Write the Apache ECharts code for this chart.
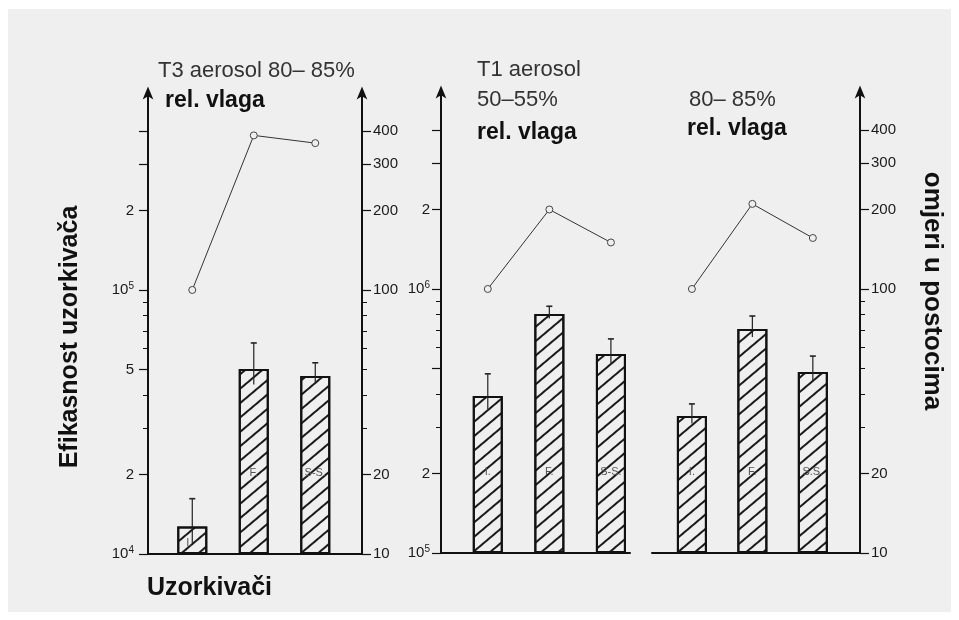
<!DOCTYPE html>
<html>
<head>
<meta charset="utf-8">
<script src="https://cdn.jsdelivr.net/npm/echarts@6/dist/echarts.min.js"></script>
<style>
  html, body { margin: 0; padding: 0; background: #ffffff; }
  #sheet { position: absolute; left: 8px; top: 9px; width: 943px; height: 603px; background: #efefef; }
  #chart { position: absolute; left: 0; top: 0; width: 959px; height: 620px; }
</style>
</head>
<body>
<div id="sheet"></div>
<div id="chart"></div>
<script>
// Sampler efficiency (bars, upper error bound) and ratio to the impinger in % (line)
const samplersT3 = ['I.', 'F.', 'S-S.'];
const efficiencyT3 = [12700, 50200, 47200];
const efficiencyT3Upper = [16200, 63000, 53000];
const ratioT3 = [100, 385, 360];

const samplersT1Low = ['I.', 'F.', 'S-S.'];
const efficiencyT1Low = [393000, 804000, 567000];
const efficiencyT1LowUpper = [477000, 860000, 647000];
const ratioT1Low = [100, 200, 150];

const samplersT1High = ['I.', 'F.', 'S.S.'];
const efficiencyT1High = [330000, 705000, 485000];
const efficiencyT1HighUpper = [367000, 790000, 557000];
const ratioT1High = [100, 210, 156];

// Axis ticks and their labels
const effTicksT3 = [1e4, 2e4, 5e4, 1e5, 2e5, 3e5, 4e5];
const effTickLabelsT3 = ['10^4', '2', '5', '10^5', '2', '', ''];
const effMinorTicksT3 = [3e4, 4e4, 6e4, 7e4, 8e4, 9e4];
const effTicksT1 = [1e5, 2e5, 5e5, 1e6, 2e6, 3e6, 4e6];
const effTickLabelsT1 = ['10^5', '2', '', '10^6', '2', '', ''];
const effMinorTicksT1 = [3e5, 4e5, 6e5, 7e5, 8e5, 9e5];
const ratioTicks = [10, 20, 100, 200, 300, 400];
const ratioTickLabels = ['10', '20', '100', '200', '300', '400'];
const ratioMinorTicks = [30, 40, 50, 60, 70, 80, 90];

// Axis ranges
const effRangeT3 = [1e4, 5.5e5];
const effRangeT1 = [1e5, 5.5e6];
const ratioRange = [10, 550];

const FONT = '"Liberation Sans", Arial, sans-serif';
const INK = '#111';

const hatch = {
  symbol: 'rect', symbolSize: 1, color: '#1a1a1a',
  dashArrayX: [1, 0], dashArrayY: [2, 9], rotation: -0.7
};

function labelFormatter(ticks, labels) {
  return function (value) {
    for (let i = 0; i < ticks.length; i++) {
      if (Math.abs(value / ticks[i] - 1) < 1e-6) {
        const t = labels[i];
        const m = /^10\^(\d)$/.exec(t);
        return m ? '10{sup|' + m[1] + '}' : t;
      }
    }
    return '';
  };
}

function mainAxis(gridIndex, position, range, ticks, labels, margin) {
  return {
    type: 'log', logBase: 10, gridIndex: gridIndex, position: position,
    min: range[0], max: range[1], startValue: range[0],
    axisLine: { show: true, onZero: false, lineStyle: { color: INK, width: 2 },
      symbol: ['none', 'arrow'], symbolSize: [8, 13], symbolOffset: [0, 8] },
    axisTick: { show: true, length: 9, customValues: ticks, lineStyle: { color: INK, width: 1.2 } },
    axisLabel: {
      show: true, customValues: ticks, margin: margin, formatter: labelFormatter(ticks, labels),
      color: '#1a1a1a', fontSize: 15, fontFamily: FONT,
      rich: { sup: { fontSize: 10, fontFamily: FONT, color: '#1a1a1a', padding: [0, 0, 8, 0] } }
    },
    splitLine: { show: false }
  };
}

function minorAxis(gridIndex, position, range, ticks) {
  return {
    type: 'log', logBase: 10, gridIndex: gridIndex, position: position,
    min: range[0], max: range[1],
    axisLine: { show: false, onZero: false },
    axisTick: { show: true, length: 5, customValues: ticks, lineStyle: { color: INK, width: 1 } },
    axisLabel: { show: false },
    splitLine: { show: false }
  };
}

function hiddenAxis(gridIndex, position, range) {
  return { type: 'log', logBase: 10, gridIndex: gridIndex, position: position, min: range[0], max: range[1], startValue: range[0], show: false };
}

function baseAxis(gridIndex, min, max) {
  return {
    type: 'value', gridIndex: gridIndex, min: min, max: max,
    axisLine: { show: true, onZero: false, lineStyle: { color: INK, width: 2 } },
    axisTick: { show: false }, axisLabel: { show: false }, splitLine: { show: false }
  };
}

function barSeries(xIdx, yIdx, names, values, range) {
  return {
    type: 'bar', xAxisIndex: xIdx, yAxisIndex: yIdx, barWidth: 30, clip: true,
    data: values.map(function (v, j) {
      const item = { value: [j, v] };
      if (v < 2 * range[0]) item.label = { position: 'inside', distance: 0, offset: [-3, 3] };
      return item;
    }),
    itemStyle: { color: '#efefef', borderColor: INK, borderWidth: 2, decal: hatch },
    label: {
      show: true, position: 'insideBottom', distance: 76,
      formatter: function (p) { return names[p.dataIndex]; },
      color: '#555', fontSize: 11, fontFamily: FONT
    },
    emphasis: { disabled: true }, silent: true, z: 2
  };
}

// Whiskers: full length above the bar top, a shorter stub inside the bar
function errorSeries(xIdx, yIdx, values, upper) {
  return {
    type: 'custom', xAxisIndex: xIdx, yAxisIndex: yIdx,
    data: values.map(function (v, j) { return [j, v, upper[j]]; }),
    renderItem: function (params, api) {
      const x = api.value(0), top = api.value(1), up = api.value(2);
      const pUp = api.coord([x, up]);
      const pTop = api.coord([x, top]);
      const stub = (pTop[1] - pUp[1]) * 0.6;
      return {
        type: 'group', children: [
          { type: 'line', shape: { x1: pUp[0], y1: pUp[1], x2: pTop[0], y2: pTop[1] + stub }, style: { stroke: '#222', lineWidth: 1.2 } },
          { type: 'line', shape: { x1: pUp[0] - 3, y1: pUp[1], x2: pUp[0] + 3, y2: pUp[1] }, style: { stroke: '#222', lineWidth: 1.6 } }
        ]
      };
    },
    silent: true, z: 3
  };
}

function ratioSeries(xIdx, yIdx, values) {
  return {
    type: 'line', xAxisIndex: xIdx, yAxisIndex: yIdx,
    data: values.map(function (v, j) { return [j, v]; }),
    symbol: 'circle', symbolSize: 7,
    itemStyle: { color: '#efefef', borderColor: '#444', borderWidth: 1 },
    lineStyle: { color: '#333', width: 1 },
    emphasis: { disabled: true }, silent: true, z: 4
  };
}

function text(str, x, y, size, bold, color, extra) {
  return Object.assign({
    type: 'text', x: x, y: y,
    style: {
      text: str, fill: color, font: (bold ? 'bold ' : '') + size + 'px ' + FONT,
      textAlign: 'left', textVerticalAlign: 'middle'
    },
    silent: true
  }, extra || {});
}

const chart = echarts.init(document.getElementById('chart'), null, { renderer: 'canvas' });

chart.setOption({
  backgroundColor: 'transparent',
  animation: false,
  grid: [
    { left: 148, top: 94.5, width: 214, height: 459.5 },
    { left: 441, top: 93.5, width: 189, height: 459.5 },
    { left: 652, top: 93.5, width: 208, height: 459.5 }
  ],
  xAxis: [
    baseAxis(0, -0.72, 2.76),
    baseAxis(1, -0.76, 2.31),
    baseAxis(2, -0.66, 2.78)
  ],
  yAxis: [
    mainAxis(0, 'left', effRangeT3, effTicksT3, effTickLabelsT3, 14),   // 0
    minorAxis(0, 'left', effRangeT3, effMinorTicksT3),                  // 1
    mainAxis(0, 'right', ratioRange, ratioTicks, ratioTickLabels, 11),  // 2
    minorAxis(0, 'right', ratioRange, ratioMinorTicks),                 // 3
    mainAxis(1, 'left', effRangeT1, effTicksT1, effTickLabelsT1, 11),   // 4
    minorAxis(1, 'left', effRangeT1, effMinorTicksT1),                  // 5
    hiddenAxis(1, 'right', ratioRange),                                 // 6
    hiddenAxis(2, 'left', effRangeT1),                                  // 7
    mainAxis(2, 'right', ratioRange, ratioTicks, ratioTickLabels, 11),  // 8
    minorAxis(2, 'right', ratioRange, ratioMinorTicks)                  // 9
  ],
  series: [
    barSeries(0, 0, samplersT3, efficiencyT3, effRangeT3),
    errorSeries(0, 0, efficiencyT3, efficiencyT3Upper),
    ratioSeries(0, 2, ratioT3),
    barSeries(1, 4, samplersT1Low, efficiencyT1Low, effRangeT1),
    errorSeries(1, 4, efficiencyT1Low, efficiencyT1LowUpper),
    ratioSeries(1, 6, ratioT1Low),
    barSeries(2, 7, samplersT1High, efficiencyT1High, effRangeT1),
    errorSeries(2, 7, efficiencyT1High, efficiencyT1HighUpper),
    ratioSeries(2, 8, ratioT1High)
  ],
  graphic: [
    text('T3 aerosol 80– 85%', 158, 71, 22, false, '#333'),
    text('rel. vlaga', 165, 101, 23, true, INK),
    text('T1 aerosol', 477, 70, 22, false, '#333'),
    text('50–55%', 477, 100, 22, false, '#333'),
    text('rel. vlaga', 477, 133, 23, true, INK),
    text('80– 85%', 689, 100, 22, false, '#333'),
    text('rel. vlaga', 687, 129, 23, true, INK),
    text('Uzorkivači', 147, 588, 25, true, INK),
    text('Efikasnost uzorkivača', 70, 337, 25, true, INK, { rotation: Math.PI / 2, style: {
      text: 'Efikasnost uzorkivača', fill: INK, font: 'bold 25px ' + FONT, textAlign: 'center', textVerticalAlign: 'middle' } }),
    text('omjeri u postocima', 932, 291, 26, true, INK, { rotation: -Math.PI / 2, style: {
      text: 'omjeri u postocima', fill: INK, font: 'bold 26px ' + FONT, textAlign: 'center', textVerticalAlign: 'middle' } })
  ]
});
</script>
</body>
</html>
